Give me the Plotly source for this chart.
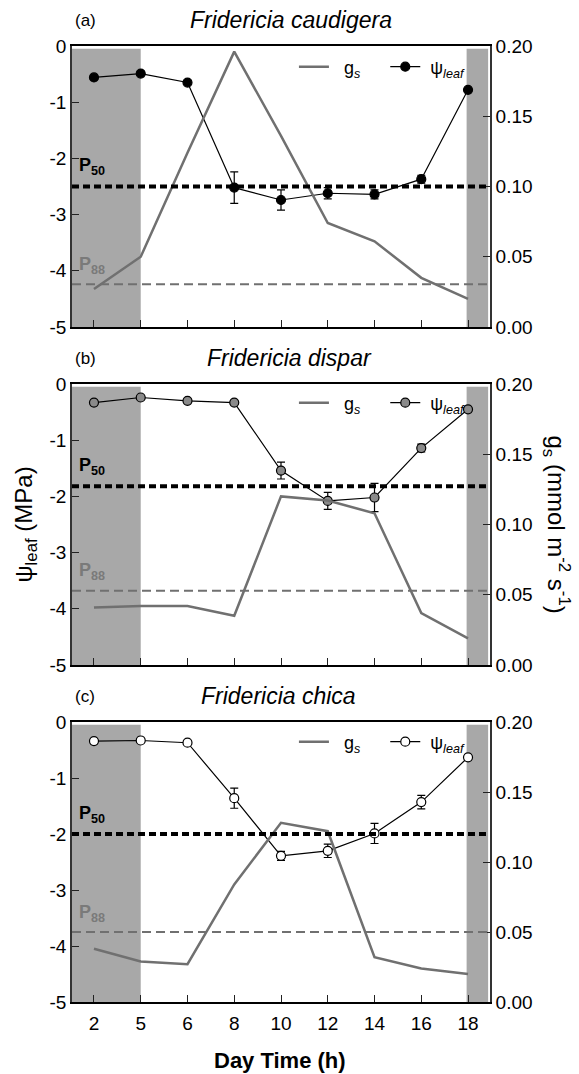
import plotly.graph_objects as go

# ---------------- data ----------------
hours = ["2", "5", "6", "8", "10", "12", "14", "16", "18"]
species = ["Fridericia caudigera", "Fridericia dispar", "Fridericia chica"]
tags = ["(a)", "(b)", "(c)"]

psi_a = [-0.56, -0.49, -0.65, -2.52, -2.74, -2.62, -2.64, -2.37, -0.78]
psi_a_err = [0.03, 0.03, 0.03, 0.28, 0.18, 0.10, 0.08, 0.07, 0.03]
gs_a = [0.027, 0.050, 0.124, 0.196, 0.136, 0.074, 0.061, 0.035, 0.020]
p50_a, p88_a = -2.50, -4.24

psi_b = [-0.33, -0.24, -0.30, -0.33, -1.54, -2.08, -2.02, -1.14, -0.45]
psi_b_err = [0.03, 0.03, 0.03, 0.03, 0.15, 0.15, 0.25, 0.07, 0.03]
gs_b = [0.041, 0.042, 0.042, 0.035, 0.120, 0.117, 0.108, 0.037, 0.019]
p50_b, p88_b = -1.82, -3.68

psi_c = [-0.34, -0.33, -0.37, -1.36, -2.39, -2.30, -1.99, -1.43, -0.63]
psi_c_err = [0.03, 0.03, 0.03, 0.18, 0.08, 0.12, 0.18, 0.12, 0.03]
gs_c = [0.038, 0.029, 0.027, 0.084, 0.128, 0.122, 0.032, 0.024, 0.020]
p50_c, p88_c = -2.00, -3.75

psi_ticks = [0, -1, -2, -3, -4, -5]
psi_ticktext = ["0", "-1", "-2", "-3", "-4", "-5"]
gs_ticks = [0.0, 0.05, 0.10, 0.15, 0.20]
gs_ticktext = ["0.00", "0.05", "0.10", "0.15", "0.20"]

psi_all = [psi_a, psi_b, psi_c]
err_all = [psi_a_err, psi_b_err, psi_c_err]
gs_all = [gs_a, gs_b, gs_c]
p50_all = [p50_a, p50_b, p50_c]
p88_all = [p88_a, p88_b, p88_c]
marker_fill = ["black", "#8a8a8a", "white"]

# ---------------- layout geometry ----------------
W, H = 579, 1074
ML, MR, MT, MB = 72, 89, 46, 72
plot_h = H - MT - MB
panel_px = [(46, 327), (384, 665), (722, 1002)]
domains = [[(H - MB - b) / plot_h, (H - MB - t) / plot_h] for (t, b) in panel_px]

FONT = "Liberation Sans, Arial, sans-serif"
XR = [-0.47, 8.47]
GS_COLOR = "#707070"
BAND = "#a8a8a8"
NB = "\u00a0"

fig = go.Figure()
layout = dict(
    width=W, height=H,
    margin=dict(l=ML, r=MR, t=MT, b=MB),
    paper_bgcolor="white", plot_bgcolor="white",
    font=dict(family=FONT, size=19, color="black"),
    showlegend=True,
)
shapes, annotations = [], []

legend_y = [(H - MB - 67) / plot_h, (H - MB - 403) / plot_h, (H - MB - 742) / plot_h]
title_x = [0.525, 0.52, 0.495]

for i in range(3):
    n = i + 1
    xa = "x" if n == 1 else f"x{n}"
    yl_n, yr_n = 2 * i + 1, 2 * i + 2
    yl = "y" if yl_n == 1 else f"y{yl_n}"
    yr = f"y{yr_n}"
    leg = "legend" if n == 1 else f"legend{n}"

    fig.add_trace(go.Scatter(
        x=hours, y=gs_all[i], xaxis=xa, yaxis=yr, mode="lines",
        line=dict(color=GS_COLOR, width=2.5),
        name=NB * 2 + "g<sub><i>s</i></sub>" + NB * 4, legend=leg))
    fig.add_trace(go.Scatter(
        x=hours, y=psi_all[i], xaxis=xa, yaxis=yl, mode="lines+markers",
        line=dict(color="black", width=1.2),
        marker=dict(size=9, color=marker_fill[i], line=dict(color="black", width=1.2)),
        error_y=dict(type="data", array=err_all[i], color="black", thickness=1.2, width=4),
        name=NB + "\u03c8<sub><i>leaf</i></sub>", legend=leg))

    xkey = "xaxis" if n == 1 else f"xaxis{n}"
    ylkey = "yaxis" if yl_n == 1 else f"yaxis{yl_n}"
    yrkey = f"yaxis{yr_n}"
    layout[xkey] = dict(
        type="category", range=XR, domain=[0, 1], anchor=yl,
        showline=True, mirror=True, linecolor="black", linewidth=2,
        ticks="inside", ticklen=7, tickwidth=1.3, tickcolor="#222",
        showticklabels=(n == 3), ticklabelstandoff=3,
        showgrid=False, zeroline=False,
        tickfont=dict(size=19),
    )
    layout[ylkey] = dict(
        range=[-5, 0], domain=domains[i], anchor=xa,
        tickvals=psi_ticks, ticktext=psi_ticktext,
        showline=True, linecolor="#333", linewidth=1.6,
        ticks="inside", ticklen=7, tickwidth=1.3, tickcolor="#222",
        showgrid=False, zeroline=False, tickfont=dict(size=19),
    )
    layout[yrkey] = dict(
        range=[0, 0.2], domain=domains[i], anchor=xa, overlaying=yl, side="right",
        tickvals=gs_ticks, ticktext=gs_ticktext,
        showline=True, linecolor="#333", linewidth=1.6,
        ticks="inside", ticklen=7, tickwidth=1.3, tickcolor="#222",
        showgrid=False, zeroline=False, tickfont=dict(size=19),
    )
    layout[leg] = dict(
        orientation="h", x=0.952, xanchor="right", y=legend_y[i], yanchor="middle",
        bgcolor="rgba(0,0,0,0)", font=dict(size=18, family=FONT),
        itemwidth=30, tracegroupgap=0,
    )

    # night bands
    shapes.append(dict(type="rect", xref=xa, yref=f"{yl} domain", x0=XR[0], x1=1,
                       y0=0, y1=0.99, fillcolor=BAND, line=dict(width=0), layer="below"))
    shapes.append(dict(type="rect", xref=xa, yref=f"{yl} domain", x0=7.97, x1=8.43,
                       y0=0, y1=0.99, fillcolor=BAND, line=dict(width=0), layer="below"))
    # P50 / P88 lines
    shapes.append(dict(type="line", xref=f"{xa} domain", yref=yl, x0=0.0, x1=0.995,
                       y0=p50_all[i], y1=p50_all[i],
                       line=dict(color="black", width=4, dash="7px,4px"), layer="above"))
    shapes.append(dict(type="line", xref=f"{xa} domain", yref=yl, x0=0.0, x1=1.0,
                       y0=p88_all[i], y1=p88_all[i],
                       line=dict(color=GS_COLOR, width=2, dash="9px,5px"), layer="above"))

    annotations.append(dict(xref=f"{xa} domain", yref=yl, x=0.0, y=p50_all[i],
                            xshift=5, yshift=20, xanchor="left", yanchor="middle",
                            text="<b>P<sub>50</sub></b>", showarrow=False,
                            font=dict(size=18, color="black")))
    annotations.append(dict(xref=f"{xa} domain", yref=yl, x=0.0, y=p88_all[i],
                            xshift=5, yshift=19, xanchor="left", yanchor="middle",
                            text="<b>P<sub>88</sub></b>", showarrow=False,
                            font=dict(size=18, color="#7a7a7a")))
    # titles
    annotations.append(dict(xref="paper", yref=f"{yl} domain", x=title_x[i], y=1,
                            yshift=26, xanchor="center", yanchor="middle",
                            text=f"<i>{species[i]}</i>", showarrow=False,
                            font=dict(size=23)))
    annotations.append(dict(xref="paper", yref=f"{yl} domain", x=(85 - ML) / (W - ML - MR), y=1,
                            yshift=26, xanchor="center", yanchor="middle",
                            text=tags[i], showarrow=False, font=dict(size=17)))

# axis titles
mid_b = (domains[1][0] + domains[1][1]) / 2
annotations.append(dict(xref="paper", yref="paper", x=(25 - ML) / (W - ML - MR), y=mid_b,
                        xanchor="center", yanchor="middle", textangle=-90,
                        text="\u03c8<sub>leaf</sub> (MPa)", showarrow=False,
                        font=dict(size=24)))
annotations.append(dict(xref="paper", yref="paper", x=(557 - ML) / (W - ML - MR), y=mid_b,
                        xanchor="center", yanchor="middle", textangle=90,
                        text="g<sub>s</sub> (mmol m<sup>-2</sup> s<sup>-1</sup>)", showarrow=False,
                        font=dict(size=24)))
annotations.append(dict(xref="paper", yref="paper", x=(280 - ML) / (W - ML - MR), y=0,
                        yshift=-(1060 - 1002), xanchor="center", yanchor="middle",
                        text="<b>Day Time (h)</b>", showarrow=False, font=dict(size=22)))

layout["shapes"] = shapes
layout["annotations"] = annotations
fig.update_layout(**layout)
fig.write_html("out.html")
